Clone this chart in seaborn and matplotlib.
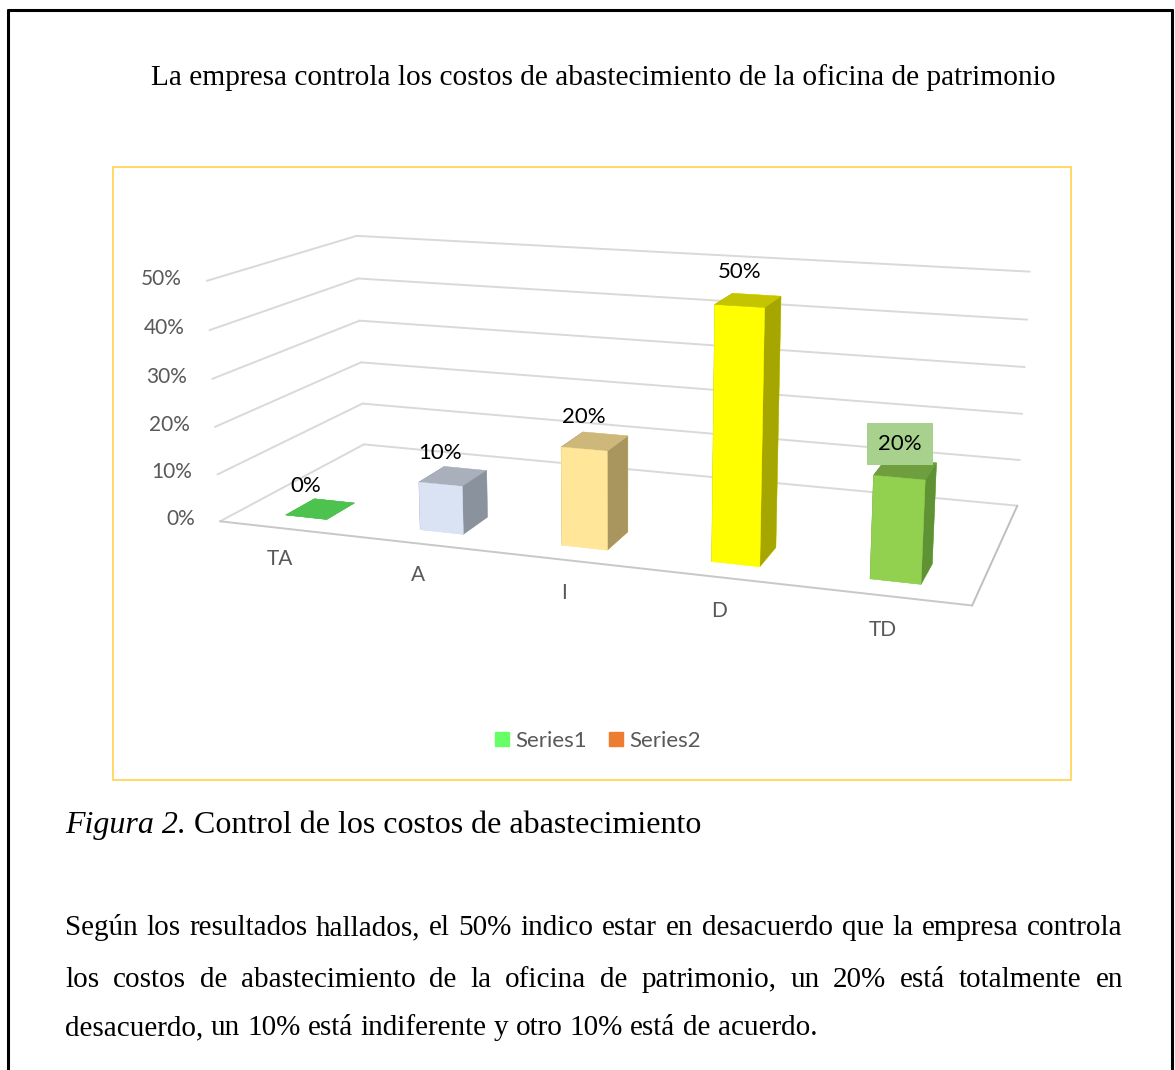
import matplotlib
matplotlib.use("Agg")
import matplotlib.pyplot as plt
import seaborn as sns
from matplotlib.lines import Line2D
from matplotlib.patches import Rectangle

# datos del grafico
categorias = ["TA", "A", "I", "D", "TD"]
porcentajes = [0.0, 0.10, 0.20, 0.50, 0.20]
etiquetas = ["0%", "10%", "20%", "50%", "20%"]
marcas_eje = [0.0, 0.1, 0.2, 0.3, 0.4, 0.5]
textos_eje = ["0%", "10%", "20%", "30%", "40%", "50%"]
series = ["Series1", "Series2"]

# colores de cada barra (frente, techo, costado)
color_frente = ["#4EC24E", "#DAE3F3", "#FFE699", "#FFFF00", "#92D050"]
color_techo = ["#4EC24E", "#A9B0BC", "#CDB77A", "#C4C400", "#6F9E3E"]
color_lado = ["#4EC24E", "#8A929E", "#A8965E", "#A6A600", "#5E9234"]
color_series = ["#66FF66", "#ED7D31"]

titulo = "La empresa controla los costos de abastecimiento de la oficina de patrimonio"
pie_italica = "Figura 2."
pie_texto = "Control de los costos de abastecimiento"
parrafo = [
    "Según los resultados hallados, el 50% indico estar en desacuerdo que la empresa controla",
    "los costos de abastecimiento de la oficina de patrimonio, un 20% está totalmente en",
    "desacuerdo, un 10% está indiferente y otro 10% está de acuerdo.",
]

sns.set_style("white")
plt.rcParams["font.family"] = ["Lato", "DejaVu Sans"]
serif = ["Liberation Serif", "DejaVu Serif"]
gris = "#595959"

W, H = 1175, 1070
fig = plt.figure(figsize=(W / 100, H / 100), dpi=100)


def fx(px):
    return px / W


def fy(py):
    return 1 - py / H


# marco de la pagina
for xs_, ys_ in [([8, 8], [1080, 10]), ([8, 1172], [10, 10]), ([1172, 1172], [10, 1080])]:
    fig.add_artist(Line2D([fx(v) for v in xs_], [fy(v) for v in ys_], color="black", lw=2.2, zorder=3))

# recuadro del grafico
fig.add_artist(Rectangle((fx(113), fy(780)), fx(1071) - fx(113), fy(167) - fy(780),
                         fill=False, edgecolor="#FFD966", lw=1.4, zorder=3))

# grafico 3D (eje cuadrado grande para que no se recorte)
n = len(categorias)
prof = 2.1
lado_px = 914
cx, cy = 612, 409
ax = fig.add_axes([fx(cx - lado_px / 2), fy(cy + lado_px / 2), lado_px / W, lado_px / H],
                  projection="3d", proj_type="persp", focal_length=0.365, computed_zorder=False)
ax.set_axis_off()
ax.set_xlim(0, n)
ax.set_ylim(0, prof)
ax.set_zlim(0, 0.5)
ax.set_box_aspect((5, prof, 1.63), zoom=0.9)
ax.view_init(elev=13.5, azim=-71)

# lineas de cuadricula en las paredes
for t in marcas_eje:
    ax.plot([0, 0], [0, prof], [t, t], color="#D9D9D9", lw=1.4, zorder=1)
    ax.plot([0, n], [prof, prof], [t, t], color="#D9D9D9", lw=1.4, zorder=1)
ax.plot([0, n], [0, 0], [0, 0], color="#C8C8C8", lw=1.4, zorder=1)
ax.plot([n, n], [0, prof], [0, 0], color="#BFBFBF", lw=1.4, zorder=1)

# barras
ancho, fondo, y0 = 0.31, 0.4, 0.27
xs = [i + 0.5 - ancho / 2 for i in range(n)]
caras = []
for i in range(n):
    caras += [color_frente[i], color_techo[i], color_frente[i], color_frente[i], color_lado[i], color_lado[i]]
ax.bar3d(xs, [y0] * n, [0] * n, ancho, fondo, porcentajes, color=caras,
         edgecolor=caras, linewidth=0.3, shade=False, zorder=3)

# etiquetas de datos
for i, (v, s) in enumerate(zip(porcentajes, etiquetas)):
    caja = None
    if i == n - 1:
        caja = dict(boxstyle="square,pad=0.5", fc="#A9D18E", ec="none")
    ax.text(i + 0.5, y0, v + 0.045, s, ha="center", va="bottom", fontsize=16,
            color="black", zorder=5, bbox=caja)

# etiquetas del eje de valores
for t, s in zip(marcas_eje, textos_eje):
    ax.text(-0.19, 0, t, s, ha="right", va="center", fontsize=15, color=gris, zorder=5)

# etiquetas de categorias
for i, c in enumerate(categorias):
    ax.text(i + 0.5, -0.1, -0.055, c, ha="center", va="center", fontsize=15, color=gris, zorder=5)

# leyenda
manijas = [Line2D([], [], marker="s", ls="none", markersize=10.5, color=c) for c in color_series]
fig.legend(manijas, series, loc="center", bbox_to_anchor=(fx(597), fy(741)), ncol=2,
           frameon=False, fontsize=16, labelcolor=gris, handlelength=0.8,
           handletextpad=0.2, columnspacing=0.9)

# textos del documento
fig.text(fx(603), fy(85), titulo, ha="center", va="baseline", family=serif, fontsize=21.2, color="black")

r = fig.canvas.get_renderer()
t1 = fig.text(fx(65), fy(833), pie_italica, va="baseline", family=serif, fontsize=23,
              style="italic", color="black")
a1 = t1.get_window_extent(r).width
fig.text(fx(65 + a1 + 8), fy(833), pie_texto, va="baseline", family=serif, fontsize=23, color="black")


def escribir_linea(texto, y, justificar):
    palabras = texto.split()
    objs = [fig.text(fx(65), fy(y), p, va="baseline", family=serif, fontsize=21, color="black")
            for p in palabras]
    anchos = [o.get_window_extent(r).width for o in objs]
    if justificar:
        hueco = (1123 - 65 - sum(anchos)) / (len(palabras) - 1)
    else:
        hueco = 21 * 100 / 72 * 0.25
    x = 65
    for o, a in zip(objs, anchos):
        o.set_x(fx(x))
        x += a + hueco


for k, (linea, yb) in enumerate(zip(parrafo, [935, 987, 1035])):
    escribir_linea(linea, yb, k < len(parrafo) - 1)

fig.savefig("out.png", dpi=100)
